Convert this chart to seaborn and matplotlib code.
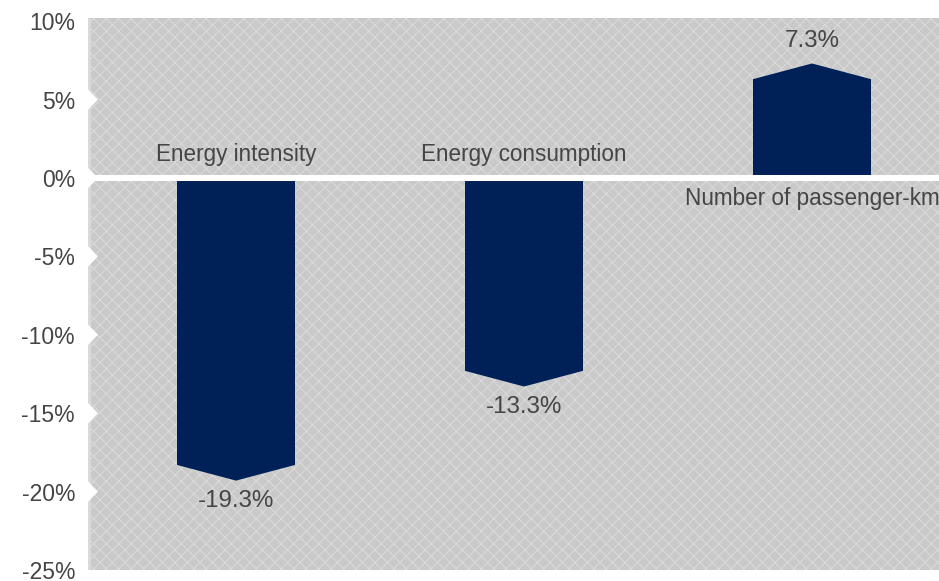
import matplotlib
matplotlib.use("Agg")
import numpy as np
import pandas as pd
import seaborn as sns
from matplotlib import pyplot as plt
from matplotlib.patches import Rectangle, Polygon
import matplotlib.transforms as mtransforms

# data
categories = ['Energy intensity', 'Energy consumption', 'Number of passenger-km']
changes = [-19.3, -13.3, 7.3]
value_labels = ['-19.3%', '-13.3%', '7.3%']
y_ticks = [10, 5, 0, -5, -10, -15, -20, -25]
y_tick_labels = ['10%', '5%', '0%', '-5%', '-10%', '-15%', '-20%', '-25%']

navy = '#002157'
text_grey = '#454545'
arrow_depth = 1.0  # height of the pointed bar end, in percent

sns.set_theme(style='white')
plt.rcParams['font.family'] = ['Liberation Sans', 'DejaVu Sans']
plt.rcParams['hatch.linewidth'] = 0.5

fig = plt.figure(figsize=(939 / 150, 581 / 150), dpi=150)
ax = fig.add_axes([88 / 939, 11 / 581, 872 / 939, 552 / 581])

# bar body stops short of the value, the point is added below
body = [v - np.sign(v) * arrow_depth for v in changes]
df = pd.DataFrame({'category': categories, 'body': body})
sns.barplot(data=df, x='category', y='body', color=navy, width=0.41,
            saturation=1, linewidth=0, ax=ax, zorder=3)

for p, v in zip(ax.patches, changes):
    x0, w = p.get_x(), p.get_width()
    end = p.get_y() + p.get_height()
    ax.add_patch(Polygon([(x0, end), (x0 + w / 2, v), (x0 + w, end)],
                         closed=True, facecolor=navy, lw=0, zorder=3))

# hatched grey background
ax.patch.set_visible(False)
ax.add_patch(Rectangle((0, 0), 1, 1, transform=ax.transAxes, facecolor='#c9c9c9',
                       edgecolor='#dadada', hatch='xxxx', lw=0, zorder=0))
ax.plot([0.0015, 0.0015], [0, 1], transform=ax.transAxes, color='#dadada',
        lw=1.4, zorder=1, solid_capstyle='butt')

# white notches on the left edge + zero line
trans = mtransforms.blended_transform_factory(ax.transAxes, ax.transData)
depth = 10 / 872
for t in [5, 0, -5, -10, -15, -20]:
    ax.add_patch(Polygon([(0, t + 0.65), (depth, t), (0, t - 0.65)], closed=True,
                         transform=trans, facecolor='white', lw=0, zorder=2))
ax.axhline(0, color='white', lw=2.9, zorder=4)

for i, (cat, v, lab) in enumerate(zip(categories, changes, value_labels)):
    cy = 1.5 if v < 0 else -1.3
    ax.text(i, cy, cat, ha='center', va='center', fontsize=10.8,
            color=text_grey, zorder=5)
    vy = v - 1.3 if v < 0 else v + 1.45
    ax.text(i, vy, lab, ha='center', va='center', fontsize=11.6,
            color=text_grey, zorder=5)

ax.set_xlim(-0.514, 2.514)
ax.set_ylim(-25, 10.2)
ax.set_yticks(y_ticks, y_tick_labels)
ax.set_xticks([])
ax.set_xlabel('')
ax.set_ylabel('')
ax.tick_params(axis='y', length=0, pad=6.2, labelsize=11, labelcolor=text_grey)
sns.despine(ax=ax, left=True, bottom=True)

plt.savefig('out.png', dpi=150)
plt.close()
